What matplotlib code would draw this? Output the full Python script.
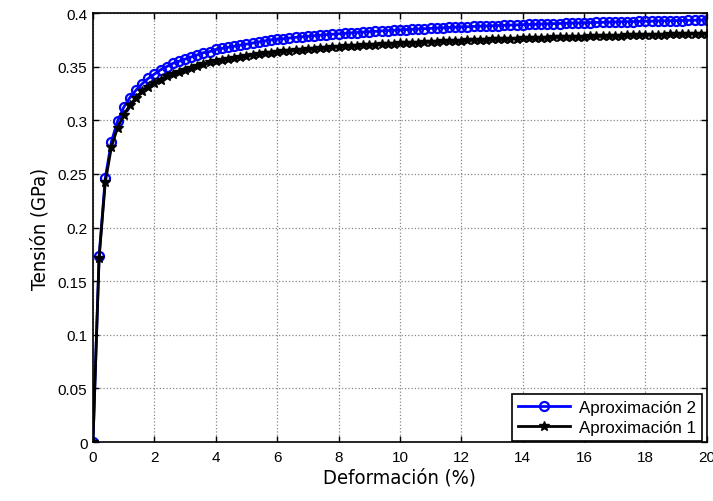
import matplotlib
matplotlib.use('Agg')
import matplotlib.pyplot as plt
from matplotlib import font_manager
import numpy as np

# strain grid (%), 0 to 20 in steps of 0.2
strain = np.linspace(0, 20, 101)

aprox2 = [
    0.000, 0.173, 0.246, 0.280, 0.299, 0.312, 0.321, 0.328, 0.334, 0.339,
    0.343, 0.347, 0.350, 0.353, 0.355, 0.357, 0.359, 0.361, 0.363, 0.364,
    0.366, 0.367, 0.368, 0.369, 0.370, 0.371, 0.372, 0.373, 0.374, 0.375,
    0.3755, 0.376, 0.3767, 0.3773, 0.3778, 0.3783, 0.3788, 0.3793, 0.3798, 0.3802,
    0.3806, 0.381, 0.3814, 0.3818, 0.3822, 0.3826, 0.3829, 0.3833, 0.3836, 0.3839,
    0.3842, 0.3845, 0.3848, 0.3851, 0.3854, 0.3857, 0.386, 0.3862, 0.3865, 0.3868,
    0.387, 0.3872, 0.3875, 0.3877, 0.3879, 0.3881, 0.3883, 0.3885, 0.3887, 0.3889,
    0.3891, 0.3893, 0.3895, 0.3897, 0.3899, 0.3901, 0.3902, 0.3904, 0.3906, 0.3907,
    0.3909, 0.391, 0.3912, 0.3913, 0.3915, 0.3916, 0.3918, 0.3919, 0.392, 0.3922,
    0.3923, 0.3924, 0.3926, 0.3927, 0.3928, 0.3929, 0.393, 0.3932, 0.3933, 0.3934,
    0.3935,
]

aprox1 = [
    0.000, 0.172, 0.242, 0.275, 0.293, 0.305, 0.314, 0.321, 0.327, 0.331,
    0.335, 0.338, 0.341, 0.343, 0.345, 0.347, 0.349, 0.351, 0.352, 0.354,
    0.355, 0.356, 0.357, 0.358, 0.359, 0.360, 0.361, 0.3617, 0.3624, 0.363,
    0.3636, 0.3642, 0.3648, 0.3653, 0.3658, 0.3663, 0.3668, 0.3672, 0.3676, 0.368,
    0.3684, 0.3688, 0.3692, 0.3695, 0.3699, 0.3702, 0.3705, 0.3708, 0.3711, 0.3714,
    0.3717, 0.372, 0.3723, 0.3725, 0.3728, 0.373, 0.3733, 0.3735, 0.3738, 0.374,
    0.3742, 0.3744, 0.3747, 0.3749, 0.3751, 0.3753, 0.3755, 0.3757, 0.3759, 0.3761,
    0.3763, 0.3765, 0.3767, 0.3769, 0.377, 0.3772, 0.3774, 0.3776, 0.3777, 0.3779,
    0.378, 0.3782, 0.3784, 0.3785, 0.3787, 0.3788, 0.379, 0.3791, 0.3793, 0.3794,
    0.3795, 0.3797, 0.3798, 0.3799, 0.3801, 0.3802, 0.3803, 0.3805, 0.3806, 0.3807,
    0.3808,
]

xticks = [0, 2, 4, 6, 8, 10, 12, 14, 16, 18, 20]
yticks = [0, 0.05, 0.1, 0.15, 0.2, 0.25, 0.3, 0.35, 0.4]
ytick_labels = ['0', '0.05', '0.1', '0.15', '0.2', '0.25', '0.3', '0.35', '0.4']

plt.rcParams['font.family'] = ['Liberation Sans', 'DejaVu Sans']

fig = plt.figure(figsize=(7.13, 5.02), dpi=100)
ax = fig.add_axes([0.1304, 0.1175, 0.861, 0.8546])

ax.plot(strain, aprox2, color='#0000ff', lw=2, marker='o', ms=6.5,
        mfc='none', mec='#0000ff', mew=1.6, label='Aproximación 2')
ax.plot(strain, aprox1, color='black', lw=2, marker='*', ms=7.5,
        mfc='black', mec='black', label='Aproximación 1')

ax.set_xlim(0, 20)
ax.set_ylim(0, 0.4)
ax.set_xticks(xticks)
ax.set_yticks(yticks)
ax.set_xticklabels([str(t) for t in xticks])
ax.set_yticklabels(ytick_labels)
ax.tick_params(direction='in', top=True, right=True, labelsize=11, length=4, width=1)
ax.tick_params(axis='x', pad=6)
ax.tick_params(axis='y', pad=4)
ax.grid(True, color='#888888', ls=':', lw=0.9)
for s in ax.spines.values():
    s.set_linewidth(1.2)

# narrow, tall look for the axis titles
lab_fp = font_manager.FontProperties(family='DejaVu Sans', stretch='condensed', size=14.5)
ax.set_xlabel('Deformación (%)', fontproperties=lab_fp, labelpad=2)
ax.set_ylabel('Tensión (GPa)', fontproperties=lab_fp, labelpad=6)

leg = ax.legend(loc='lower right', bbox_to_anchor=(0.992, 0.002), fontsize=12.2,
                fancybox=False, framealpha=1, edgecolor='black', borderaxespad=0,
                handlelength=3.1, borderpad=0.35, labelspacing=0.3, handletextpad=0.5)
leg.get_frame().set_linewidth(1.2)

fig.savefig('out.png', dpi=100)
